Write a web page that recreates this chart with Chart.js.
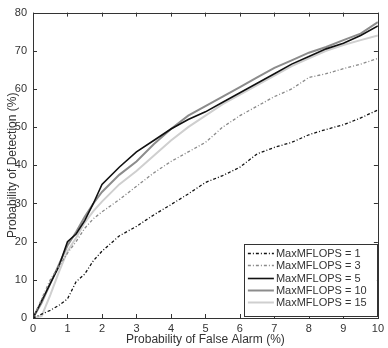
<!DOCTYPE html>
<html>
<head>
<meta charset="utf-8">
<script src="https://cdn.jsdelivr.net/npm/chart.js@4"></script>
<style>
  html, body { margin: 0; padding: 0; background: #fff; }
  #wrap { width: 388px; height: 348px; }
</style>
</head>
<body>
<div id="wrap"><canvas id="myChart"></canvas></div>
<script>
// false alarm rate (%) at which each curve is sampled
const falseAlarm = [0, 0.25, 0.5, 0.75, 1, 1.25, 1.5, 1.75, 2, 2.5, 3, 3.5, 4, 4.5, 5, 5.5, 6, 6.5, 7, 7.5, 8, 8.5, 9, 9.5, 10];

// detection rate (%) per MFLOPS budget
const pd1  = [0, 1, 2, 3.3, 5, 9.5, 11.5, 15, 17.5, 21.5, 24, 27, 29.7, 32.5, 35.5, 37.3, 39.5, 43, 44.7, 46, 48, 49.4, 50.6, 52.4, 54.5];
const pd3  = [0, 5, 10, 13.5, 17, 20, 23.5, 26, 27.8, 31, 34.5, 38, 41, 43.5, 46, 50, 53, 55.5, 58, 60, 63, 64, 65.3, 66.5, 68];
const pd5  = [0, 4.5, 9, 13.5, 20, 22, 25.5, 30, 35, 39.5, 43.5, 46.5, 49.5, 52, 54, 56.5, 59, 61.5, 64, 66.5, 68.5, 70.5, 72, 74, 76.5];
const pd10 = [0, 4, 9, 14, 19, 22.5, 26.5, 30, 33, 37.5, 41, 45.5, 49.5, 53, 55.5, 58, 60.5, 63, 65.5, 67.5, 69.5, 71, 72.8, 74.5, 77.5];
const pd15 = [0, 0.5, 6, 12, 17.5, 21, 25, 28, 30.5, 35, 38.5, 42.5, 46.5, 50, 53, 56, 58.5, 61, 63.5, 66, 68, 70, 71.5, 72.8, 74];

const seriesLabels = ['MaxMFLOPS = 1', 'MaxMFLOPS = 3', 'MaxMFLOPS = 5', 'MaxMFLOPS = 10', 'MaxMFLOPS = 15'];

const xTicks = [0, 1, 2, 3, 4, 5, 6, 7, 8, 9, 10];
const yTicks = [0, 10, 20, 30, 40, 50, 60, 70, 80];

const FONT = 'Liberation Sans, Arial, Helvetica, sans-serif';
const TEXT = '#333';

function points(values) {
    return falseAlarm.map((x, i) => ({ x: x, y: values[i] }));
}

// box around the plot with inward ticks on every side
const boxPlugin = {
    id: 'box',
    afterDatasetsDraw(chart) {
        const { ctx, chartArea: a, scales } = chart;
        const len = 4;
        ctx.save();
        ctx.strokeStyle = '#333';
        ctx.lineWidth = 1;
        ctx.beginPath();
        xTicks.forEach(v => {
            const px = Math.round(scales.x.getPixelForValue(v)) + 0.5;
            ctx.moveTo(px, a.bottom); ctx.lineTo(px, a.bottom - len);
            ctx.moveTo(px, a.top); ctx.lineTo(px, a.top + len);
        });
        yTicks.forEach(v => {
            const py = Math.round(scales.y.getPixelForValue(v)) + 0.5;
            ctx.moveTo(a.left, py); ctx.lineTo(a.left + len, py);
            ctx.moveTo(a.right, py); ctx.lineTo(a.right - len, py);
        });
        ctx.stroke();
        ctx.strokeRect(Math.round(a.left) + 0.5, Math.round(a.top) + 0.5,
            Math.round(a.right - a.left), Math.round(a.bottom - a.top));
        ctx.restore();
    }
};

// legend box in the lower right corner of the plot
const legendPlugin = {
    id: 'innerLegend',
    afterDraw(chart) {
        const { ctx, chartArea: a } = chart;
        const w = 133, rowH = 12.3, h = 72;
        const x0 = a.right - w - 1, y0 = a.bottom - h - 2;
        ctx.save();
        ctx.fillStyle = '#fff';
        ctx.fillRect(x0, y0, w, h);
        ctx.strokeStyle = '#333';
        ctx.lineWidth = 1;
        ctx.strokeRect(Math.round(x0) + 0.5, Math.round(y0) + 0.5, w, h);
        ctx.font = '11px ' + FONT;
        ctx.textBaseline = 'middle';
        chart.data.datasets.forEach((ds, i) => {
            const y = Math.round(y0 + 9 + i * rowH) + 0.5;
            ctx.strokeStyle = ds.borderColor;
            ctx.lineWidth = ds.borderWidth;
            ctx.setLineDash(ds.borderDash || []);
            ctx.beginPath();
            ctx.moveTo(x0 + 4, y);
            ctx.lineTo(x0 + 30, y);
            ctx.stroke();
            ctx.setLineDash([]);
            ctx.fillStyle = TEXT;
            ctx.fillText(ds.label, x0 + 32, y);
        });
        ctx.restore();
    }
};

const chartData = {
    datasets: [
        {
            label: seriesLabels[0],
            data: points(pd1),
            borderColor: '#111',
            borderWidth: 1.3,
            borderDash: [3, 2, 1, 2]
        },
        {
            label: seriesLabels[1],
            data: points(pd3),
            borderColor: '#8a8a8a',
            borderWidth: 1.3,
            borderDash: [3, 2, 1, 2]
        },
        {
            label: seriesLabels[2],
            data: points(pd5),
            borderColor: '#111',
            borderWidth: 1.6
        },
        {
            label: seriesLabels[3],
            data: points(pd10),
            borderColor: '#8c8c8c',
            borderWidth: 2
        },
        {
            label: seriesLabels[4],
            data: points(pd15),
            borderColor: '#cfcfcf',
            borderWidth: 2
        }
    ]
};

const config = {
    type: 'line',
    data: chartData,
    options: {
        responsive: true,
        maintainAspectRatio: false,
        animation: false,
        layout: {
            padding: { top: 5, right: 6, left: 0, bottom: 0 }
        },
        elements: {
            point: { radius: 0 },
            line: { tension: 0, fill: false }
        },
        plugins: {
            legend: { display: false },
            tooltip: { enabled: false }
        },
        scales: {
            x: {
                type: 'linear',
                min: 0,
                max: 10,
                afterFit: s => { s.height = 30; },
                afterBuildTicks: s => { s.ticks = xTicks.map(v => ({ value: v })); },
                grid: { display: false, drawTicks: false },
                border: { display: false },
                ticks: { padding: 4, color: TEXT, font: { family: FONT, size: 11 } },
                title: {
                    display: true,
                    text: 'Probability of False Alarm (%)',
                    color: TEXT,
                    font: { family: FONT, size: 12 },
                    padding: { top: 0, bottom: 1 }
                }
            },
            y: {
                min: 0,
                max: 80,
                afterFit: s => { s.width = 33; },
                afterBuildTicks: s => { s.ticks = yTicks.map(v => ({ value: v })); },
                grid: { display: false, drawTicks: false },
                border: { display: false },
                ticks: { padding: 6, color: TEXT, font: { family: FONT, size: 11 } },
                title: {
                    display: true,
                    text: 'Probability of Detection (%)',
                    color: TEXT,
                    font: { family: FONT, size: 12 },
                    padding: { top: 5, bottom: 0 }
                }
            }
        }
    },
    plugins: [boxPlugin, legendPlugin]
};

const ctx = document.getElementById('myChart').getContext('2d');
if (ctx) {
    new Chart(ctx, config);
}
</script>
</body>
</html>
